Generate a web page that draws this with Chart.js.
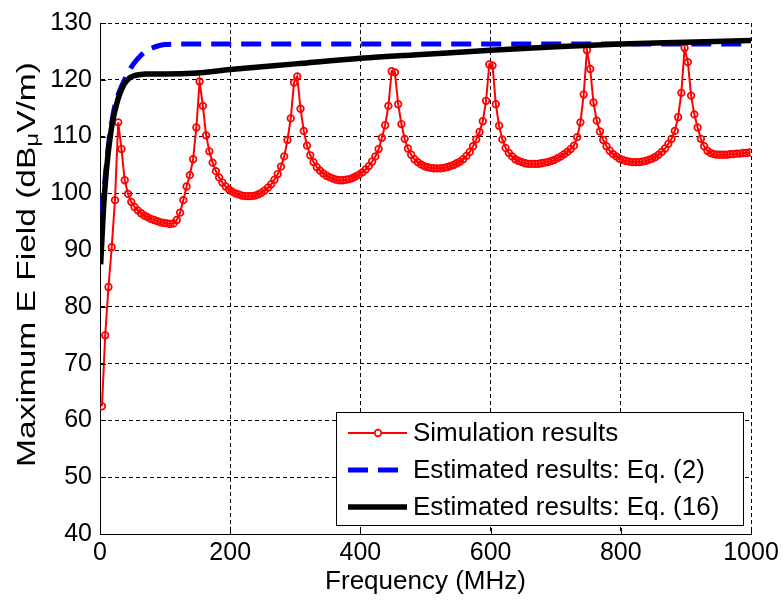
<!DOCTYPE html>
<html>
<head>
<meta charset="utf-8">
<script src="https://cdn.jsdelivr.net/npm/chart.js@4.4.1/dist/chart.umd.min.js"></script>
<style>
  html, body { margin:0; padding:0; background:#fff; }
  #wrap { width:784px; height:603px; }
</style>
</head>
<body>
<div id="wrap"><canvas id="chart" width="784" height="603"></canvas></div>
<script>
// Simulation results (red, markers)
const simFreq = [
  3, 8, 13, 18, 23, 28, 33, 38, 43, 48,
  53, 58, 63, 68, 73, 78, 83, 88, 93, 98,
  103, 108, 113, 118, 123, 128, 133, 138, 143, 148,
  153, 158, 163, 168, 173, 178, 183, 188, 193, 198,
  203, 208, 213, 218, 223, 228, 233, 238, 243, 248,
  253, 258, 263, 268, 273, 278, 283, 288, 293, 298,
  303, 308, 313, 318, 323, 328, 333, 338, 343, 348,
  353, 358, 363, 368, 373, 378, 383, 388, 393, 398,
  403, 408, 413, 418, 423, 428, 433, 438, 443, 448,
  453, 458, 463, 468, 473, 478, 483, 488, 493, 498,
  503, 508, 513, 518, 523, 528, 533, 538, 543, 548,
  553, 558, 563, 568, 573, 578, 583, 588, 593, 598,
  603, 608, 613, 618, 623, 628, 633, 638, 643, 648,
  653, 658, 663, 668, 673, 678, 683, 688, 693, 698,
  703, 708, 713, 718, 723, 728, 733, 738, 743, 748,
  753, 758, 763, 768, 773, 778, 783, 788, 793, 798,
  803, 808, 813, 818, 823, 828, 833, 838, 843, 848,
  853, 858, 863, 868, 873, 878, 883, 888, 893, 898,
  903, 908, 913, 918, 923, 928, 933, 938, 943, 948,
  953, 958, 963, 968, 973, 978, 983, 988, 993, 998
];
const simField = [
  62.5, 75.0, 83.5, 90.5, 98.8, 112.5, 107.8, 102.3, 99.9, 98.5,
  97.6, 97.0, 96.5, 96.1, 95.8, 95.5, 95.3, 95.1, 94.9, 94.8,
  94.7, 94.6, 94.7, 95.3, 96.6, 98.8, 101.2, 103.2, 106.0, 111.6,
  119.7, 115.4, 110.2, 107.4, 105.4, 103.9, 102.8, 101.9, 101.2, 100.7,
  100.3, 100.0, 99.8, 99.6, 99.5, 99.5, 99.5, 99.6, 99.8, 100.1,
  100.5, 101.0, 101.6, 102.4, 103.4, 104.7, 106.5, 109.4, 113.2, 119.5,
  120.6, 114.9, 111.0, 108.4, 106.7, 105.5, 104.6, 104.0, 103.5, 103.1,
  102.8, 102.6, 102.4, 102.3, 102.3, 102.4, 102.5, 102.7, 103.0, 103.3,
  103.7, 104.2, 104.8, 105.6, 106.5, 107.8, 109.8, 112.0, 115.4, 121.5,
  121.3, 115.7, 112.2, 109.6, 107.9, 106.8, 106.0, 105.5, 105.1, 104.8,
  104.6, 104.5, 104.4, 104.4, 104.4, 104.5, 104.6, 104.8, 105.0, 105.3,
  105.6, 106.0, 106.6, 107.3, 108.3, 109.5, 110.8, 112.7, 116.3, 122.7,
  122.5, 115.7, 111.9, 109.5, 108.0, 107.1, 106.5, 106.0, 105.7, 105.5,
  105.3, 105.2, 105.2, 105.2, 105.2, 105.3, 105.4, 105.5, 105.7, 105.9,
  106.2, 106.5, 106.9, 107.3, 107.8, 108.4, 109.9, 112.5, 117.4, 125.2,
  121.9, 116.0, 112.8, 110.9, 109.4, 108.3, 107.5, 106.9, 106.5, 106.1,
  105.9, 105.7, 105.6, 105.5, 105.5, 105.5, 105.6, 105.7, 105.9, 106.1,
  106.4, 106.8, 107.3, 107.9, 108.7, 109.6, 111.0, 113.4, 117.7, 125.6,
  123.1, 117.2, 113.9, 111.6, 109.6, 108.3, 107.5, 107.1, 106.9, 106.8,
  106.8, 106.8, 106.8, 106.9, 106.9, 107.0, 107.0, 107.1, 107.1, 107.2
];

// Estimated results: Eq. (2) (blue dashed)
const eq2Freq  = [1, 3, 6, 9, 13, 18, 24, 30, 36, 42, 48, 55, 62, 70, 80, 90, 100, 120, 200, 400, 600, 800, 1000];
const eq2Field = [91.0, 96.7, 100.5, 104.0, 108.5, 112.5, 116.0, 118.0, 119.6, 121.0, 122.2, 123.3, 124.2, 125.0, 125.6, 126.0, 126.2, 126.3, 126.3, 126.3, 126.3, 126.3, 126.3];

// Estimated results: Eq. (16) (black)
const eq16Freq  = [1, 3, 5, 8, 12, 16, 20, 25, 30, 37, 45, 52, 60, 70, 100, 150, 200, 300, 400, 500, 600, 700, 800, 900, 1000];
const eq16Field = [87.5, 92.0, 96.5, 101.5, 106.5, 110.2, 113.0, 115.5, 117.4, 119.2, 120.3, 120.7, 120.9, 121.0, 121.0, 121.2, 121.8, 122.8, 123.8, 124.5, 125.2, 125.8, 126.3, 126.6, 126.9];

const xTicks = [0, 200, 400, 600, 800, 1000];
const xTickLabels = ['0', '200', '400', '600', '800', '1000'];
const yTicks = [40, 50, 60, 70, 80, 90, 100, 110, 120, 130];
const yTickLabels = ['40', '50', '60', '70', '80', '90', '100', '110', '120', '130'];
const legendLabels = ['Simulation results', 'Estimated results: Eq. (2)', 'Estimated results: Eq. (16)'];
const xLabel = 'Frequency (MHz)';
const yLabelParts = ['Maximum E Field (dB', 'μ', 'V/m)'];

const FONT = "'Liberation Sans', Arial, Helvetica, sans-serif";

function toPoints(xs, ys){ return xs.map((x,i)=>({x:x, y:ys[i]})); }

// small inward ticks on left and bottom axes (matlab style)
const tickMarks = {
  id:'tickMarks',
  afterDraw(chart){
    const {ctx, chartArea:a, scales} = chart;
    ctx.save();
    ctx.strokeStyle = '#000'; ctx.lineWidth = 1;
    ctx.beginPath();
    xTicks.forEach(v=>{
      const px = Math.round(scales.x.getPixelForValue(v)) + 0.5;
      ctx.moveTo(px, a.bottom); ctx.lineTo(px, a.bottom - 6);
    });
    yTicks.forEach(v=>{
      const py = Math.round(scales.y.getPixelForValue(v)) + 0.5;
      ctx.moveTo(a.left, py); ctx.lineTo(a.left + 6, py);
    });
    ctx.stroke();
    ctx.restore();
  }
};

// y axis title with subscript mu, stretched along text like the original
const yTitle = {
  id:'yTitle',
  afterDraw(chart){
    const ctx = chart.ctx, a = chart.chartArea;
    const big = '25px ' + FONT, small = '18px ' + FONT;
    const parts = [[yLabelParts[0], big, 0], [yLabelParts[1], small, 5], [yLabelParts[2], big, 0]];
    ctx.save();
    ctx.translate(28, (a.top + a.bottom) / 2 - 14);
    ctx.rotate(-Math.PI/2);
    ctx.scale(1.34, 1);
    ctx.fillStyle = '#000'; ctx.textBaseline = 'middle'; ctx.textAlign = 'left';
    let total = 0;
    parts.forEach(p=>{ ctx.font = p[1]; total += ctx.measureText(p[0]).width; });
    let x = -total/2;
    parts.forEach(p=>{ ctx.font = p[1]; ctx.fillText(p[0], x, p[2]); x += ctx.measureText(p[0]).width; });
    ctx.restore();
  }
};

// legend box in lower right of the plot
const legendBox = {
  id:'legendBox',
  afterDraw(chart){
    const ctx = chart.ctx, a = chart.chartArea, ds = chart.data.datasets;
    const w = 407, h = 113;
    const x0 = a.right - 8 - w, y0 = a.bottom - 9 - h;
    ctx.save();
    ctx.fillStyle = '#fff'; ctx.fillRect(x0, y0, w, h);
    ctx.strokeStyle = '#000'; ctx.lineWidth = 1; ctx.strokeRect(x0 + 0.5, y0 + 0.5, w, h);
    ds.forEach((d,i)=>{
      const yy = y0 + 21 + i*37;
      ctx.save();
      ctx.strokeStyle = d.borderColor; ctx.lineWidth = d.borderWidth;
      ctx.setLineDash(d.borderDash || []);
      ctx.beginPath(); ctx.moveTo(x0 + 12, yy); ctx.lineTo(x0 + 71, yy); ctx.stroke();
      if(d.pointRadius){
        ctx.setLineDash([]);
        ctx.lineWidth = d.pointBorderWidth;
        ctx.beginPath(); ctx.arc(x0 + 42, yy, d.pointRadius, 0, Math.PI*2);
        ctx.fillStyle = '#fff'; ctx.fill(); ctx.stroke();
      }
      ctx.restore();
      ctx.fillStyle = '#000'; ctx.font = '26px ' + FONT;
      ctx.textBaseline = 'middle'; ctx.textAlign = 'left';
      ctx.fillText(legendLabels[i], x0 + 77, yy + 1);
    });
    ctx.restore();
  }
};

new Chart(document.getElementById('chart').getContext('2d'), {
  type:'scatter',
  data:{
    datasets:[
      {label:legendLabels[0], data:toPoints(simFreq, simField), showLine:true,
       borderColor:'#ff0000', borderWidth:2, pointRadius:3.3, pointBorderWidth:1.7,
       pointBorderColor:'#ff0000', pointBackgroundColor:'rgba(255,255,255,0)', order:3},
      {label:legendLabels[1], data:toPoints(eq2Freq, eq2Field), showLine:true,
       borderColor:'#0000ff', borderWidth:5, borderDash:[20,10], pointRadius:0,
       cubicInterpolationMode:'monotone', order:2},
      {label:legendLabels[2], data:toPoints(eq16Freq, eq16Field), showLine:true,
       borderColor:'#000000', borderWidth:5.5, pointRadius:0,
       cubicInterpolationMode:'monotone', order:1}
    ]
  },
  options:{
    responsive:false,
    animation:false,
    devicePixelRatio:1,
    layout:{ padding:{ top:20, right:33, left:0, bottom:0 } },
    plugins:{ legend:{display:false}, tooltip:{enabled:false} },
    scales:{
      x:{
        type:'linear', min:0, max:1000,
        afterBuildTicks: s => { s.ticks = xTicks.map(v=>({value:v})); },
        afterFit: s => { s.height = 69; },
        ticks:{ color:'#000', font:{family:FONT, size:25}, padding:4, maxRotation:0, autoSkip:false,
                callback:(v)=> xTickLabels[xTicks.indexOf(v)] },
        grid:{ color:'#000', lineWidth:1, drawTicks:false },
        border:{ display:true, color:'#000', width:1, dash:[4,3] },
        title:{ display:true, text:xLabel, color:'#000', font:{family:FONT, size:26}, padding:{top:0, bottom:6} }
      },
      y:{
        type:'linear', min:40, max:130,
        afterBuildTicks: s => { s.ticks = yTicks.map(v=>({value:v})); },
        afterFit: s => { s.width = 100; },
        ticks:{ color:'#000', font:{family:FONT, size:25}, padding:8, autoSkip:false,
                callback:(v)=> yTickLabels[yTicks.indexOf(v)] },
        grid:{ color:'#000', lineWidth:1, drawTicks:false },
        border:{ display:true, color:'#000', width:1, dash:[4,3] }
      }
    }
  },
  plugins:[tickMarks, yTitle, legendBox]
});
</script>
</body>
</html>
